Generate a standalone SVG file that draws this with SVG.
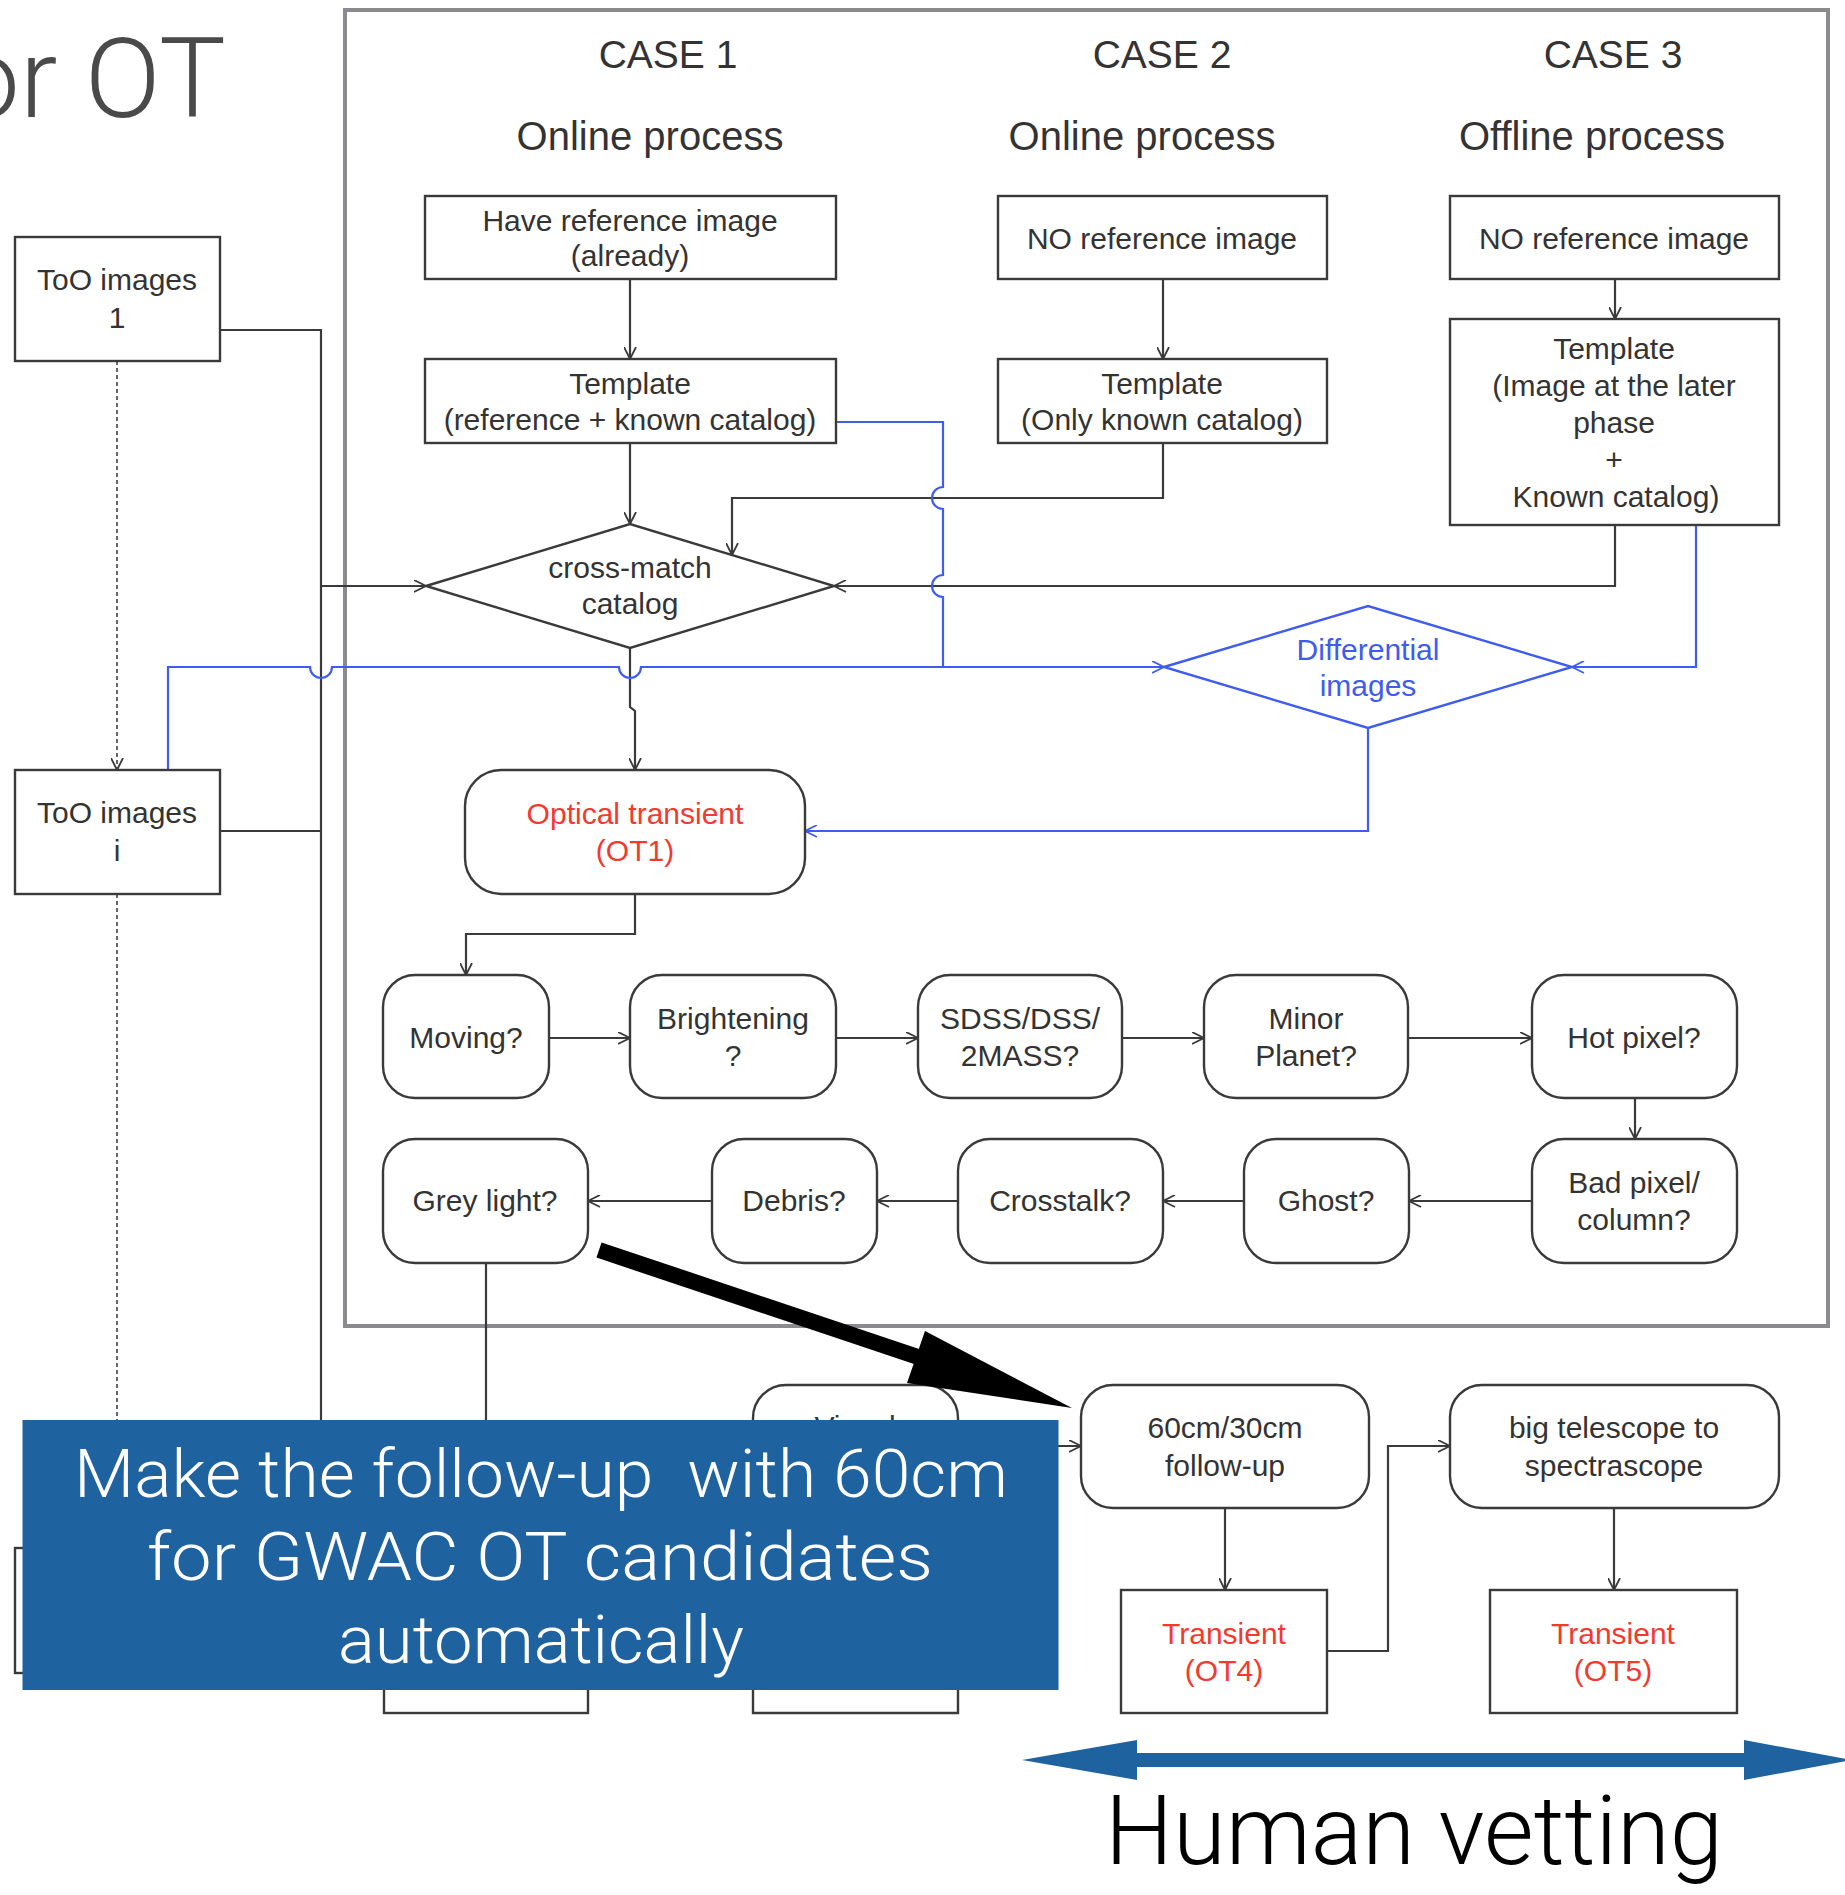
<svg xmlns="http://www.w3.org/2000/svg" width="1845" height="1895" viewBox="0 0 1845 1895">
  <style>
    .t { font-family: "Liberation Sans", Arial, sans-serif; font-size: 30px; fill: #333; text-anchor: middle; }
    .hd { font-size: 39px; }
    .pr { font-size: 40px; }
    .red { fill: #f23a2e; }
    .blu { fill: #3f5cf0; }
    .box { fill: #fff; stroke: #3a3a3a; stroke-width: 2.4; }
    .bbox { fill: #fff; stroke: #3f5cf0; stroke-width: 2.4; }
    .ln { fill: none; stroke: #3a3a3a; stroke-width: 2.2; }
    .lnb { fill: none; stroke: #3f5cf0; stroke-width: 2.2; }
    .dash { fill: none; stroke: #555; stroke-width: 1.8; stroke-dasharray: 4 3; }
    .light { font-family: Roboto, "Liberation Sans", Arial, sans-serif; font-weight: 300; }
  </style>
  <defs>
    <marker id="ah" viewBox="0 0 13 13" refX="12.5" refY="6.5" markerWidth="13" markerHeight="13" markerUnits="userSpaceOnUse" orient="auto">
      <path d="M0.5,0.5 L12.5,6.5 L0.5,12.5" fill="none" stroke="#3a3a3a" stroke-width="1.8"/>
    </marker>
    <marker id="ahb" viewBox="0 0 13 13" refX="12.5" refY="6.5" markerWidth="13" markerHeight="13" markerUnits="userSpaceOnUse" orient="auto">
      <path d="M0.5,0.5 L12.5,6.5 L0.5,12.5" fill="none" stroke="#3f5cf0" stroke-width="1.8"/>
    </marker>
  </defs>

  <rect width="1845" height="1895" fill="#fff"/>

  <!-- slide title, clipped at the left edge -->
  <text class="light" x="226" y="117" font-size="112" fill="#4a4a4a" text-anchor="end">or OT</text>

  <!-- frame around the three cases -->
  <rect id="cases-frame" x="345" y="10" width="1483" height="1316" fill="none" stroke="#8b8b8f" stroke-width="4"/>

  <!-- column headings -->
  <g id="headings">
    <text class="t hd" x="668" y="68">CASE 1</text>
    <text class="t hd" x="1162" y="68">CASE 2</text>
    <text class="t hd" x="1613" y="68">CASE 3</text>
    <text class="t pr" x="650" y="150">Online process</text>
    <text class="t pr" x="1142" y="150">Online process</text>
    <text class="t pr" x="1592" y="150">Offline process</text>
  </g>

  <!-- connectors -->
  <g id="connectors">
    <!-- case 1 -->
    <path class="ln" d="M630,279 V359" marker-end="url(#ah)"/>
    <path class="ln" d="M630,443 V524" marker-end="url(#ah)"/>
    <!-- case 2 -->
    <path class="ln" d="M1163,279 V359" marker-end="url(#ah)"/>
    <path class="ln" d="M1163,443 V498 H732 V555" marker-end="url(#ah)"/>
    <!-- case 3 -->
    <path class="ln" d="M1615,279 V319" marker-end="url(#ah)"/>
    <path class="ln" d="M1615,525 V586 H834" marker-end="url(#ah)"/>
    <!-- ToO image trunk -->
    <path class="ln" d="M220,330 H321 V1500"/>
    <path class="ln" d="M220,831 H321"/>
    <path class="ln" d="M321,586 H426" marker-end="url(#ah)"/>
    <path class="dash" d="M117,361 V770" marker-end="url(#ah)"/>
    <path class="dash" d="M117,894 V1500"/>
    <!-- cross-match to OT1 -->
    <path class="ln" d="M630,648 V707 L635,711 V770" marker-end="url(#ah)"/>
    <!-- OT1 into the check chain -->
    <path class="ln" d="M635,894 V934 H466 V975" marker-end="url(#ah)"/>
    <path class="ln" d="M549,1038 H630" marker-end="url(#ah)"/>
    <path class="ln" d="M836,1038 H918" marker-end="url(#ah)"/>
    <path class="ln" d="M1122,1038 H1204" marker-end="url(#ah)"/>
    <path class="ln" d="M1408,1038 H1532" marker-end="url(#ah)"/>
    <path class="ln" d="M1635,1098 V1139" marker-end="url(#ah)"/>
    <path class="ln" d="M1532,1201 H1409" marker-end="url(#ah)"/>
    <path class="ln" d="M1244,1201 H1163" marker-end="url(#ah)"/>
    <path class="ln" d="M958,1201 H877" marker-end="url(#ah)"/>
    <path class="ln" d="M712,1201 H588" marker-end="url(#ah)"/>
    <path class="ln" d="M486,1263 V1500"/>
    <!-- follow-up chain -->
    <path class="ln" d="M1040,1446 H1081" marker-end="url(#ah)"/>
    <path class="ln" d="M1225,1508 V1590" marker-end="url(#ah)"/>
    <path class="ln" d="M1327,1651 H1388 V1446 H1450" marker-end="url(#ah)"/>
    <path class="ln" d="M1614,1508 V1590" marker-end="url(#ah)"/>
    <!-- differential-image branch (blue), hopping over black lines -->
    <path class="lnb" d="M836,422 H943 V487 A11,11 0 0 0 943,509 V575 A11,11 0 0 0 943,597 V667"/>
    <path class="lnb" d="M168,770 V667 H310 A11,11 0 0 0 332,667 H619 A11,11 0 0 0 641,667 H1164" marker-end="url(#ahb)"/>
    <path class="lnb" d="M1696,525 V667 H1572" marker-end="url(#ahb)"/>
    <path class="lnb" d="M1368,728 V831 H805" marker-end="url(#ahb)"/>
  </g>

  <!-- ToO inputs -->
  <g id="too-1">
    <rect class="box" x="15" y="237" width="205" height="124"/>
    <text class="t" x="117" y="290">ToO images</text>
    <text class="t" x="117" y="328">1</text>
  </g>
  <g id="too-i">
    <rect class="box" x="15" y="770" width="205" height="124"/>
    <text class="t" x="117" y="823">ToO images</text>
    <text class="t" x="117" y="861">i</text>
  </g>

  <!-- case 1 -->
  <g id="c1-reference">
    <rect class="box" x="425" y="196" width="411" height="83"/>
    <text class="t" x="630" y="231">Have reference image</text>
    <text class="t" x="630" y="266">(already)</text>
  </g>
  <g id="c1-template">
    <rect class="box" x="425" y="359" width="411" height="84"/>
    <text class="t" x="630" y="394">Template</text>
    <text class="t" x="630" y="430">(reference + known catalog)</text>
  </g>

  <!-- case 2 -->
  <g id="c2-noref">
    <rect class="box" x="998" y="196" width="329" height="83"/>
    <text class="t" x="1162" y="249">NO reference image</text>
  </g>
  <g id="c2-template">
    <rect class="box" x="998" y="359" width="329" height="84"/>
    <text class="t" x="1162" y="394">Template</text>
    <text class="t" x="1162" y="430">(Only known catalog)</text>
  </g>

  <!-- case 3 -->
  <g id="c3-noref">
    <rect class="box" x="1450" y="196" width="329" height="83"/>
    <text class="t" x="1614" y="249">NO reference image</text>
  </g>
  <g id="c3-template">
    <rect class="box" x="1450" y="319" width="329" height="206"/>
    <text class="t" x="1614" y="359">Template</text>
    <text class="t" x="1614" y="396">(Image at the later</text>
    <text class="t" x="1614" y="433">phase</text>
    <text class="t" x="1614" y="470">+</text>
    <text class="t" x="1616" y="507">Known catalog)</text>
  </g>

  <!-- decisions -->
  <g id="cross-match">
    <polygon class="box" points="426,586 630,524 834,586 630,648"/>
    <text class="t" x="630" y="578">cross-match</text>
    <text class="t" x="630" y="614">catalog</text>
  </g>
  <g id="differential">
    <polygon class="bbox" points="1164,667 1368,606 1572,667 1368,728"/>
    <text class="t blu" x="1368" y="660">Differential</text>
    <text class="t blu" x="1368" y="696">images</text>
  </g>

  <!-- optical transient -->
  <g id="ot1">
    <rect class="box" x="465" y="770" width="340" height="124" rx="36"/>
    <text class="t red" x="635" y="824">Optical transient</text>
    <text class="t red" x="635" y="861">(OT1)</text>
  </g>

  <!-- check chain, row 1 -->
  <g id="moving">
    <rect class="box" x="383" y="975" width="166" height="123" rx="32"/>
    <text class="t" x="466" y="1048">Moving?</text>
  </g>
  <g id="brightening">
    <rect class="box" x="630" y="975" width="206" height="123" rx="32"/>
    <text class="t" x="733" y="1029">Brightening</text>
    <text class="t" x="733" y="1066">?</text>
  </g>
  <g id="catalogs">
    <rect class="box" x="918" y="975" width="204" height="123" rx="32"/>
    <text class="t" x="1020" y="1029">SDSS/DSS/</text>
    <text class="t" x="1020" y="1066">2MASS?</text>
  </g>
  <g id="minor-planet">
    <rect class="box" x="1204" y="975" width="204" height="123" rx="32"/>
    <text class="t" x="1306" y="1029">Minor</text>
    <text class="t" x="1306" y="1066">Planet?</text>
  </g>
  <g id="hot-pixel">
    <rect class="box" x="1532" y="975" width="205" height="123" rx="32"/>
    <text class="t" x="1634" y="1048">Hot pixel?</text>
  </g>

  <!-- check chain, row 2 -->
  <g id="bad-pixel">
    <rect class="box" x="1532" y="1139" width="205" height="124" rx="32"/>
    <text class="t" x="1634" y="1193">Bad pixel/</text>
    <text class="t" x="1634" y="1230">column?</text>
  </g>
  <g id="ghost">
    <rect class="box" x="1244" y="1139" width="165" height="124" rx="32"/>
    <text class="t" x="1326" y="1211">Ghost?</text>
  </g>
  <g id="crosstalk">
    <rect class="box" x="958" y="1139" width="205" height="124" rx="32"/>
    <text class="t" x="1060" y="1211">Crosstalk?</text>
  </g>
  <g id="debris">
    <rect class="box" x="712" y="1139" width="165" height="124" rx="32"/>
    <text class="t" x="794" y="1211">Debris?</text>
  </g>
  <g id="grey-light">
    <rect class="box" x="383" y="1139" width="205" height="124" rx="32"/>
    <text class="t" x="485" y="1211">Grey light?</text>
  </g>

  <!-- lower boxes, mostly behind the caption panel -->
  <g id="lower-left">
    <rect class="box" x="15" y="1548" width="80" height="125"/>
  </g>
  <g id="lower-grey">
    <rect class="box" x="384" y="1450" width="204" height="263"/>
  </g>
  <g id="visual">
    <path class="box" d="M753,1713 V1418 A33,33 0 0 1 786,1385 H925 A33,33 0 0 1 958,1418 V1713 Z"/>
    <text class="t" x="855" y="1437">Visual</text>
  </g>

  <!-- follow-up -->
  <g id="followup-60cm">
    <rect class="box" x="1081" y="1385" width="288" height="123" rx="32"/>
    <text class="t" x="1225" y="1438">60cm/30cm</text>
    <text class="t" x="1225" y="1476">follow-up</text>
  </g>
  <g id="big-telescope">
    <rect class="box" x="1450" y="1385" width="329" height="123" rx="32"/>
    <text class="t" x="1614" y="1438">big telescope to</text>
    <text class="t" x="1614" y="1476">spectrascope</text>
  </g>
  <g id="ot4">
    <rect class="box" x="1121" y="1590" width="206" height="123"/>
    <text class="t red" x="1224" y="1644">Transient</text>
    <text class="t red" x="1224" y="1681">(OT4)</text>
  </g>
  <g id="ot5">
    <rect class="box" x="1490" y="1590" width="247" height="123"/>
    <text class="t red" x="1613" y="1644">Transient</text>
    <text class="t red" x="1613" y="1681">(OT5)</text>
  </g>

  <!-- caption panel -->
  <g id="caption">
    <rect x="22.5" y="1420" width="1036" height="270" fill="#1f62a0"/>
    <text class="light" x="541" y="1497" font-size="66" fill="#fff" text-anchor="middle" xml:space="preserve" textLength="934" lengthAdjust="spacingAndGlyphs">Make the follow-up  with 60cm</text>
    <text class="light" x="540" y="1580" font-size="66" fill="#fff" text-anchor="middle" textLength="786" lengthAdjust="spacingAndGlyphs">for GWAC OT candidates</text>
    <text class="light" x="541" y="1663" font-size="66" fill="#fff" text-anchor="middle" textLength="406" lengthAdjust="spacingAndGlyphs">automatically</text>
  </g>

  <!-- pointer from the chain to the follow-up -->
  <g id="pointer">
    <line x1="599" y1="1250" x2="918" y2="1357" stroke="#000" stroke-width="16"/>
    <polygon points="925,1331 1072,1408 907,1383" fill="#000"/>
  </g>

  <!-- human vetting span -->
  <g id="vetting">
    <polygon points="1022,1760 1137,1740 1137,1753 1744,1753 1744,1740 1852,1760 1744,1780 1744,1767 1137,1767 1137,1780" fill="#1f62a0"/>
    <text class="light" x="1414" y="1864" font-size="96" fill="#000" text-anchor="middle">Human vetting</text>
  </g>
</svg>
